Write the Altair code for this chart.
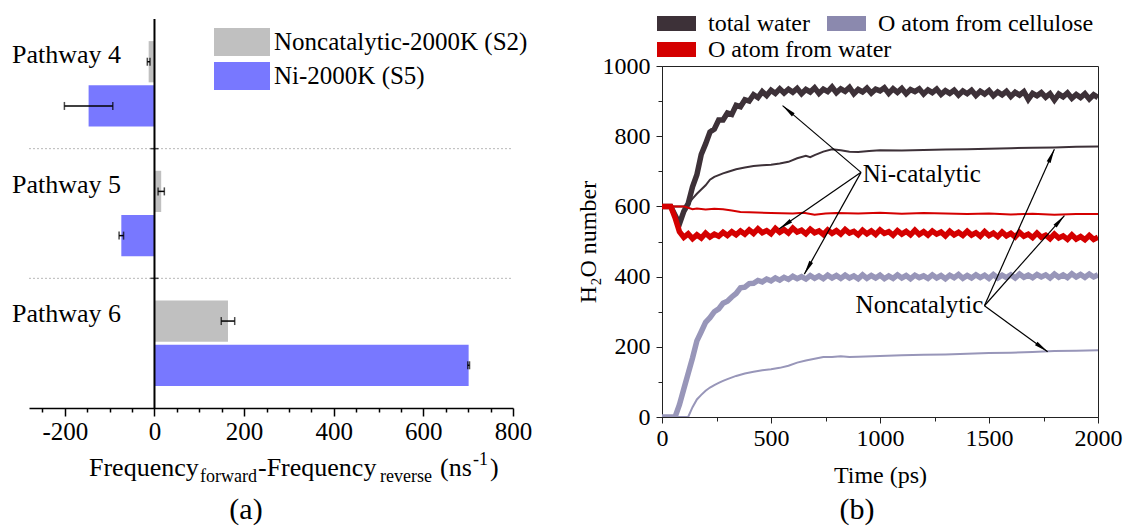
import math
import altair as alt
import pandas as pd

FONT = "Liberation Serif"

# ---------------- panel (a) data ----------------
pathways = ["Pathway 4", "Pathway 5", "Pathway 6"]
systems_a = ["Noncatalytic-2000K (S2)", "Ni-2000K (S5)"]
colors_a = ["#c0c0c0", "#7878ff"]
noncat_vals = [-13, 15, 164]
noncat_err = [3, 7, 15]
ni_vals = [-147, -74, 701]
ni_err = [54, 5, 2]
xa_ticks = [-250, -200, -150, -100, -50, 0, 50, 100, 150, 200, 250, 300, 350,
            400, 450, 500, 550, 600, 650, 700, 750, 800]

# ---------------- panel (b) data ----------------
quantities = ["total water", "O atom from cellulose", "O atom from water"]
colors_b = ["#3d3138", "#9896b9", "#d40000"]
legend_colors_b = ["#3d3138", "#8b89ae", "#d40000"]

t_grid = list(range(0, 2001, 20))
total_ni = [600, 600, 600, 575, 550, 586, 608, 656, 690, 748, 778, 812, 820, 846, 846, 866, 862, 888, 884, 904,
            900, 918, 910, 927, 916, 931, 922, 935, 923, 934,
            925, 936, 921, 933, 926, 938, 922, 934, 927, 940, 924, 935, 928, 939, 921, 933, 926, 937, 923, 934,
            929, 938, 922, 935, 925, 936, 921, 933, 927, 935, 920, 932, 924, 934, 919, 930, 922, 931, 917, 929,
            921, 931, 916, 928, 920, 930, 915, 926, 918, 928, 913, 925, 917, 927, 905, 922, 915, 924, 911, 921,
            903, 920, 912, 923, 908, 919, 910, 921, 906, 918, 910]
water_ni = [600, 600, 600, 568, 528, 512, 522, 508, 519, 510, 524, 513, 521, 515, 526, 517, 528, 519, 530, 521,
            533, 523, 536, 525, 531, 522, 537, 526, 534, 524, 538, 527, 532, 522, 535, 525, 530, 520, 533, 523,
            531, 521, 534, 524, 529, 519, 532, 522, 530, 520, 533, 523, 528, 518, 531, 521, 529, 519, 532, 520,
            528, 518, 530, 521, 527, 516, 529, 519, 526, 517, 529, 518, 525, 515, 528, 517, 524, 514, 527, 516,
            523, 513, 526, 515, 521, 511, 524, 512, 518, 508, 521, 510, 516, 506, 519, 507, 514, 505, 517, 506, 512]
cell_ni = [0, 0, 0, 0, 35, 80, 124, 168, 217, 243, 270, 283, 300, 308, 324, 330, 342, 352, 368, 370,
           380, 381, 389, 385, 393, 388, 396, 390, 398, 392, 401, 394, 400, 393, 403, 395, 402, 394, 404, 396,
           403, 395, 404, 396, 402, 394, 405, 395, 403, 396, 404, 394, 402, 395, 405, 396, 403, 394, 404, 397,
           402, 395, 405, 396, 403, 394, 404, 397, 406, 395, 403, 396, 405, 397, 404, 395, 406, 396, 404, 397,
           405, 396, 407, 398, 404, 397, 406, 399, 405, 396, 407, 398, 405, 397, 408, 399, 406, 398, 407, 399, 405]

total_nc_t = [0, 100, 120, 140, 160, 180, 200, 220, 240, 260, 280, 300, 340, 380, 420, 460, 500, 540, 580, 620,
              660, 680, 700, 740, 780, 820, 860, 900, 950, 1000, 1100, 1200, 1300, 1400, 1500, 1600, 1700, 1800, 1900, 2000]
total_nc = [600, 600, 606, 622, 636, 648, 660, 676, 684, 689, 694, 698, 706, 711, 715, 717, 719, 722, 727, 737,
            744, 740, 746, 756, 763, 760, 756, 755, 758, 760, 759, 761, 762, 763, 764, 766, 767, 768, 770, 771]
water_nc_t = [0, 100, 120, 140, 160, 200, 240, 280, 320, 360, 400, 500, 600, 650, 700, 750, 800, 900, 1000, 1100,
              1200, 1300, 1400, 1500, 1600, 1700, 1800, 1900, 2000]
water_nc = [600, 600, 596, 592, 594, 591, 593, 592, 588, 584, 583, 581, 580, 582, 576, 580, 581, 580, 582, 579,
            581, 580, 578, 580, 577, 579, 576, 578, 578]
cell_nc_t = [0, 120, 140, 160, 180, 200, 220, 240, 260, 280, 300, 340, 380, 420, 460, 500, 540, 580, 620, 660,
             700, 740, 780, 820, 860, 900, 1000, 1100, 1200, 1300, 1400, 1500, 1600, 1700, 1800, 1900, 2000]
cell_nc = [0, 0, 28, 50, 63, 75, 84, 91, 97, 103, 108, 117, 124, 129, 133, 136, 140, 146, 155, 161,
           166, 171, 171, 173, 171, 172, 174, 176, 177, 178, 180, 182, 183, 185, 188, 189, 190]

xb_ticks = [0, 250, 500, 750, 1000, 1250, 1500, 1750, 2000]
yb_ticks = [0, 100, 200, 300, 400, 500, 600, 700, 800, 900, 1000]

# annotations: label, anchor (t, v), arrow tips (t, v)
ann_names = ["Ni-catalytic", "Noncatalytic"]
ann_anchor = [(913, 697), (1479, 317)]
ann_text_pos = [(921, 692), (1474, 319)]
ann_tips = [[(553, 887), (538, 536), (653, 407)],
            [(1800, 763), (1846, 574), (1769, 186)]]

# ---------------- layout sizes ----------------
W_A, H_A = 484, 342      # panel (a) plot; its bands start 47 px above the panel origin
TOP_A = -47
W_B, H_B = 436, 351

dummy = pd.DataFrame({"k": [0]})


def txt(text, x, y, size, align="left", baseline="alphabetic", angle=0):
    return alt.Chart(dummy).mark_text(
        text=text, fontSize=size, font=FONT, align=align, baseline=baseline,
        color="black", angle=angle
    ).encode(x=alt.value(x), y=alt.value(y))


# ================= panel (a) =================
rows = []
for i, p in enumerate(pathways):
    for s, vals, errs in ((systems_a[0], noncat_vals, noncat_err), (systems_a[1], ni_vals, ni_err)):
        rows.append(dict(pathway=p, system=s, value=vals[i], lo=vals[i] - errs[i], hi=vals[i] + errs[i]))
bars_df = pd.DataFrame(rows)

xa_scale = alt.Scale(domain=[-280, 800], nice=False, zero=False)
xa_axis = alt.Axis(
    values=xa_ticks, title=None,
    labelExpr="datum.value % 200 === 0 ? toString(datum.value) : ''",
    tickSize=alt.condition("datum.value % 200 === 0", alt.value(8), alt.value(4)),
    labelFontSize=25, labelFont=FONT, labelColor="black", labelPadding=3,
    domainColor="black", tickColor="black", domainWidth=1.5, tickWidth=1.5,
    grid=False, labelOverlap=False, labelFlush=False,
)
ya_scale = alt.Scale(type="band", domain=pathways, paddingInner=0, paddingOuter=0, range=[TOP_A, H_A])
yA = alt.Y("pathway:N", sort=pathways, scale=ya_scale, axis=None)
yOff = alt.YOffset("system:N", sort=systems_a,
                   scale=alt.Scale(domain=systems_a, paddingInner=0.068, paddingOuter=0.5))

bars = alt.Chart(bars_df).mark_bar().encode(
    x=alt.X("value:Q", scale=xa_scale, axis=xa_axis, stack=None),
    y=yA, yOffset=yOff,
    color=alt.Color("system:N", scale=alt.Scale(domain=systems_a, range=colors_a), legend=None),
)
err_rule = alt.Chart(bars_df).mark_rule(color="black", strokeWidth=1.5).encode(
    x=alt.X("lo:Q", scale=xa_scale, axis=xa_axis), x2="hi:Q", y=yA, yOffset=yOff)
cap_lo = alt.Chart(bars_df).mark_tick(color="black", thickness=1.5, size=8).encode(
    x=alt.X("lo:Q", scale=xa_scale, axis=xa_axis), y=yA, yOffset=yOff)
cap_hi = alt.Chart(bars_df).mark_tick(color="black", thickness=1.5, size=8).encode(
    x=alt.X("hi:Q", scale=xa_scale, axis=xa_axis), y=yA, yOffset=yOff)

sep_df = pd.DataFrame({"pathway": pathways[1:]})
sep = alt.Chart(sep_df).mark_rule(color="#b8b8b8", strokeDash=[2, 2], strokeWidth=1).encode(
    y=alt.Y("pathway:N", sort=pathways, scale=ya_scale, axis=None, bandPosition=0),
    x=alt.value(0), x2=alt.value(W_A))
zero_line = alt.Chart(dummy).mark_rule(color="black", strokeWidth=2).encode(
    x=alt.X(datum=0, scale=xa_scale, axis=xa_axis), y=alt.value(TOP_A), y2=alt.value(H_A))
ytick = alt.Chart(sep_df).mark_tick(color="black", thickness=1.5, size=8, orient="horizontal").encode(
    x=alt.X(datum=0, scale=xa_scale, axis=xa_axis),
    y=alt.Y("pathway:N", sort=pathways, scale=ya_scale, axis=None, bandPosition=0))

path_lbl = alt.Chart(pd.DataFrame({"pathway": pathways})).mark_text(
    align="left", baseline="alphabetic", dy=-21, fontSize=26, font=FONT, color="black"
).encode(x=alt.value(-17), y=yA, text="pathway:N")

leg_a = []
for i, (name, col) in enumerate(zip(systems_a, colors_a)):
    y0 = -38 + 34 * i
    leg_a.append(alt.Chart(dummy).mark_rect(color=col).encode(
        x=alt.value(185), x2=alt.value(241), y=alt.value(y0), y2=alt.value(y0 + 28)))
    leg_a.append(txt(name, 245, y0 + 14, 25, baseline="middle"))

title_a = [
    txt("Frequency", 60, 410, 26),
    txt("forward", 171, 416, 18),
    txt("-Frequency", 229, 410, 26),
    txt("reverse", 351, 416, 18),
    txt("(ns", 411, 410, 26),
    txt("-1", 444, 399, 18),
    txt(")", 461, 410, 26),
    txt("(a)", 217, 453, 30, align="center"),
]

panel_a = alt.layer(sep, bars, err_rule, cap_lo, cap_hi, zero_line, ytick, path_lbl,
                    *leg_a, *title_a).properties(width=W_A, height=H_A)

# ================= panel (b) =================
recs = []
for qty, sysn, ts, vs in (("O atom from cellulose", "Ni", t_grid, cell_ni),
                          ("O atom from cellulose", "Non", cell_nc_t, cell_nc),
                          ("total water", "Ni", t_grid, total_ni),
                          ("total water", "Non", total_nc_t, total_nc),
                          ("O atom from water", "Ni", t_grid, water_ni),
                          ("O atom from water", "Non", water_nc_t, water_nc)):
    for t, v in zip(ts, vs):
        recs.append(dict(time=t, value=v, qty=qty, sys=sysn, key=qty + "|" + sysn))
lines_df = pd.DataFrame(recs)

xb_scale = alt.Scale(domain=[0, 2000], nice=False, zero=False)
yb_scale = alt.Scale(domain=[0, 1000], nice=False, zero=False)
xb_axis = alt.Axis(
    values=xb_ticks, title="Time (ps)", titleFontSize=24, titleFont=FONT, titleFontWeight="normal",
    titleColor="black", titlePadding=13,
    labelExpr="datum.value % 500 === 0 ? toString(datum.value) : ''",
    tickSize=alt.condition("datum.value % 500 === 0", alt.value(6), alt.value(4)),
    labelFontSize=24, labelFont=FONT, labelColor="black", labelPadding=3,
    domainColor="#222", tickColor="#222", grid=False, labelOverlap=False, labelFlush=False)
yb_axis = alt.Axis(
    values=yb_ticks, title="H\u2082O number", titleFontSize=24, titleFont=FONT, titleFontWeight="normal",
    titleColor="black", titlePadding=2,
    labelExpr="datum.value % 200 === 0 ? toString(datum.value) : ''",
    tickSize=alt.condition("datum.value % 200 === 0", alt.value(6), alt.value(4)),
    labelFontSize=24, labelFont=FONT, labelColor="black", labelPadding=6,
    domainColor="#222", tickColor="#222", grid=False, labelOverlap=False, labelFlush=False)

line_layers = []
for qty, col, wni in ((quantities[1], colors_b[1], 5.5),
                      (quantities[0], colors_b[0], 6.5),
                      (quantities[2], colors_b[2], 6.0)):
    line_layers.append(alt.Chart(lines_df).transform_filter(
        alt.datum.qty == qty).mark_line(color=col, clip=True).encode(
        x=alt.X("time:Q", scale=xb_scale, axis=xb_axis),
        y=alt.Y("value:Q", scale=yb_scale, axis=yb_axis),
        strokeWidth=alt.StrokeWidth("sys:N", scale=alt.Scale(domain=["Ni", "Non"], range=[wni, 2]),
                                    legend=None),
        detail="key:N", order="time:Q"))

sx, sy = W_B / 2000.0, H_B / 1000.0
arr = []
for (t0, v0), tips in zip(ann_anchor, ann_tips):
    for (t1, v1) in tips:
        dx = (t1 - t0) * sx
        dy = -(v1 - v0) * sy
        L = math.hypot(dx, dy)
        ux, uy = dx / L, dy / L
        hx_px = t1 * sx - 7.0 * ux
        hy_px = (1000 - v1) * sy - 7.0 * uy
        ang = math.degrees(math.atan2(dx, -dy)) % 360
        arr.append(dict(t0=t0, v0=v0, t1=t1, v1=v1, hx=hx_px / sx, hy=1000 - hy_px / sy, ang=ang))
arr_df = pd.DataFrame(arr)

arrow_lines = alt.Chart(arr_df).mark_rule(color="black", strokeWidth=1.2).encode(
    x=alt.X("t0:Q", scale=xb_scale, axis=xb_axis), x2="t1:Q",
    y=alt.Y("v0:Q", scale=yb_scale, axis=yb_axis), y2="v1:Q")
arrow_heads = alt.Chart(arr_df).mark_point(
    shape="M0,-1L0.3,1L-0.3,1Z", filled=True, color="black", opacity=1, size=200, strokeWidth=0).encode(
    x=alt.X("hx:Q", scale=xb_scale, axis=xb_axis),
    y=alt.Y("hy:Q", scale=yb_scale, axis=yb_axis),
    angle=alt.Angle("ang:Q", scale=None))

ann_df = pd.DataFrame({"label": ann_names,
                       "t": [p[0] for p in ann_text_pos],
                       "v": [p[1] for p in ann_text_pos]})
ann_ni = alt.Chart(ann_df).transform_filter(alt.datum.label == ann_names[0]).mark_text(
    align="left", baseline="middle", fontSize=25, font=FONT, color="black").encode(
    x=alt.X("t:Q", scale=xb_scale, axis=xb_axis), y=alt.Y("v:Q", scale=yb_scale, axis=yb_axis),
    text="label:N")
ann_non = alt.Chart(ann_df).transform_filter(alt.datum.label == ann_names[1]).mark_text(
    align="right", baseline="middle", fontSize=25, font=FONT, color="black").encode(
    x=alt.X("t:Q", scale=xb_scale, axis=xb_axis), y=alt.Y("v:Q", scale=yb_scale, axis=yb_axis),
    text="label:N")

leg_b = []
leg_pos = [(-5, -50), (165, -50), (-5, -24)]
for (name, col), (lx, ly) in zip(zip(quantities, legend_colors_b), leg_pos):
    leg_b.append(alt.Chart(dummy).mark_rect(color=col).encode(
        x=alt.value(lx), x2=alt.value(lx + 39), y=alt.value(ly), y2=alt.value(ly + 15)))
    leg_b.append(txt(name, lx + 51, ly + 8, 24, baseline="middle"))

lbl_b = txt("(b)", 195, 453, 30, align="center")

panel_b = alt.layer(*line_layers, arrow_lines, arrow_heads, ann_ni, ann_non, *leg_b, lbl_b).properties(
    width=W_B, height=H_B,
    view=alt.ViewBackground(stroke="#222", strokeWidth=1))

chart = alt.hconcat(panel_a, panel_b, spacing=42).properties(
    padding={"left": 11, "top": 11, "right": 0, "bottom": 0}
).configure(font=FONT).configure_view(stroke="transparent")

chart.save("out.html", embed_options={"renderer": "svg", "actions": False})
